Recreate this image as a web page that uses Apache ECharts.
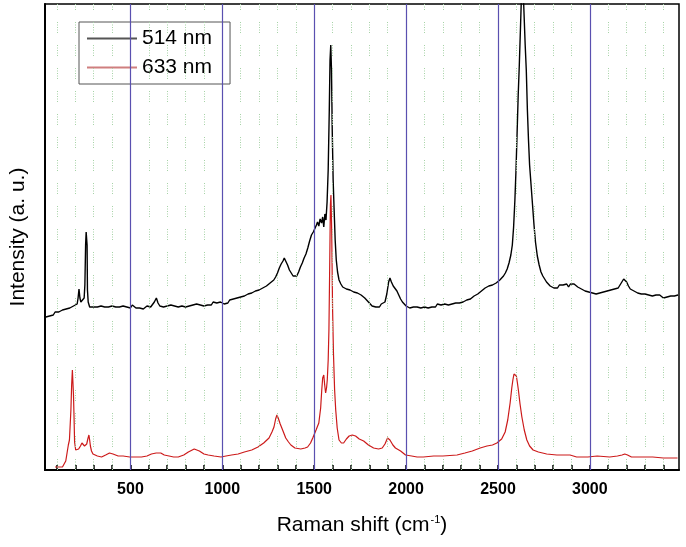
<!DOCTYPE html>
<html>
<head>
<meta charset="utf-8">
<script src="https://cdn.jsdelivr.net/npm/echarts@6/dist/echarts.min.js"></script>
<style>
html,body{margin:0;padding:0;background:#fff;}
#chart{width:686px;height:547px;}
</style>
</head>
<body>
<div id="chart"></div>
<script>
// Raman shift (cm-1) ticks and labels
var tickValues = [100,200,300,400,500,600,700,800,900,1000,1100,1200,1300,1400,1500,1600,1700,1800,1900,2000,2100,2200,2300,2400,2500,2600,2700,2800,2900,3000,3100,3200,3300,3400];
var labelValues = [500,1000,1500,2000,2500,3000];
var majorLines = [500,1000,1500,2000,2500,3000];
var minorLines = [100,200,300,400,600,700,800,900,1100,1200,1300,1400,1600,1700,1800,1900,2100,2200,2300,2400,2600,2700,2800,2900,3100,3200,3300,3400];

// 514 nm spectrum [shift, intensity a.u.]
var s514 = [[40,153],[50,155],[60,154],[70,156],[80,155],[90,158],[100,156],[110,158],[120,157],[130,160],[140,158],[150,161],[160,159],[170,162],[180,161],[190,164],[200,163],[210,166],[215,172],[220,181],[225,172],[230,168],[240,170],[248,172],[252,185],[256,225],[259,238],[262,236],[264,225],[266,180],[270,168],[278,163],[288,162],[300,163],[310,161],[320,163],[330,162],[340,164],[350,162],[360,163],[370,161],[380,163],[390,162],[400,164],[410,162],[420,163],[430,161],[440,163],[450,162],[460,164],[470,162],[480,163],[490,164],[500,162],[510,165],[520,163],[530,162],[540,164],[550,162],[560,163],[570,161],[580,163],[590,164],[600,162],[610,163],[620,165],[630,168],[641,172],[650,167],[660,164],[670,165],[680,163],[690,165],[700,164],[710,162],[720,165],[730,163],[740,164],[750,166],[760,163],[770,165],[780,164],[790,166],[800,163],[810,165],[820,164],[830,166],[840,165],[850,163],[860,166],[870,164],[880,165],[890,167],[900,164],[910,166],[920,165],[930,167],[940,165],[950,168],[960,166],[970,167],[980,165],[990,168],[1000,169],[1010,166],[1020,168],[1030,167],[1040,170],[1050,168],[1060,171],[1070,169],[1080,172],[1090,170],[1100,173],[1110,171],[1120,174],[1130,173],[1140,176],[1150,174],[1160,177],[1170,176],[1180,179],[1190,177],[1200,180],[1210,179],[1220,182],[1230,181],[1240,184],[1250,183],[1260,187],[1270,186],[1280,190],[1290,193],[1300,197],[1310,202],[1320,206],[1330,209],[1337,212],[1345,210],[1355,205],[1365,200],[1375,197],[1385,194],[1395,192],[1405,194],[1415,198],[1425,203],[1435,207],[1445,212],[1455,216],[1465,222],[1475,229],[1485,235],[1495,238],[1505,242],[1512,245],[1518,248],[1525,244],[1532,251],[1540,247],[1546,253],[1552,243],[1558,256],[1564,250],[1570,268],[1576,300],[1582,360],[1586,410],[1590,425],[1594,400],[1598,340],[1603,290],[1608,262],[1614,230],[1620,210],[1627,198],[1635,190],[1645,186],[1655,183],[1665,185],[1675,181],[1685,183],[1695,180],[1705,182],[1715,178],[1725,180],[1735,177],[1745,178],[1755,175],[1765,177],[1775,172],[1785,170],[1795,168],[1805,166],[1815,164],[1825,165],[1835,163],[1845,164],[1855,163],[1865,166],[1875,165],[1885,168],[1895,176],[1905,188],[1912,192],[1920,188],[1930,184],[1940,182],[1950,179],[1960,175],[1970,171],[1980,168],[1990,166],[2000,164],[2010,165],[2020,162],[2030,164],[2040,163],[2050,161],[2060,163],[2070,164],[2080,162],[2090,164],[2100,163],[2110,165],[2120,162],[2130,164],[2140,163],[2150,165],[2160,163],[2170,166],[2180,164],[2190,165],[2200,163],[2210,166],[2220,164],[2230,165],[2240,163],[2250,166],[2260,165],[2270,167],[2280,165],[2290,167],[2300,166],[2310,168],[2320,167],[2330,170],[2340,169],[2350,171],[2360,172],[2370,174],[2380,173],[2390,176],[2400,177],[2410,179],[2420,180],[2430,182],[2440,181],[2450,184],[2460,183],[2470,185],[2480,184],[2490,187],[2500,188],[2510,190],[2520,192],[2530,194],[2540,197],[2550,201],[2560,207],[2570,215],[2578,225],[2585,243],[2592,270],[2598,300],[2604,337],[2610,375],[2616,405],[2622,440],[2627,470],[2632,490],[2637,480],[2642,455],[2648,425],[2654,400],[2660,360],[2666,330],[2672,305],[2680,285],[2688,265],[2696,245],[2704,228],[2714,214],[2724,205],[2734,198],[2744,194],[2754,191],[2764,188],[2774,187],[2784,184],[2794,185],[2804,182],[2814,184],[2824,182],[2834,185],[2844,183],[2854,185],[2864,184],[2874,186],[2884,183],[2894,186],[2904,184],[2914,186],[2924,185],[2934,183],[2944,184],[2954,181],[2964,182],[2974,179],[2984,180],[2994,178],[3004,179],[3014,177],[3024,178],[3034,176],[3044,178],[3054,177],[3064,179],[3074,178],[3084,180],[3094,179],[3104,181],[3114,180],[3124,182],[3134,181],[3144,183],[3154,182],[3164,185],[3174,188],[3184,191],[3192,193],[3200,188],[3210,184],[3220,181],[3230,182],[3240,179],[3250,180],[3260,177],[3270,179],[3280,176],[3290,178],[3300,176],[3310,177],[3320,175],[3330,177],[3340,174],[3350,176],[3360,175],[3370,173],[3380,175],[3390,174],[3400,172],[3410,174],[3420,173],[3430,171],[3440,174],[3450,172],[3460,174],[3470,173],[3480,175]];

// 633 nm spectrum [shift, intensity a.u.]
var s633 = [[90,3],[110,3],[130,3],[140,5],[148,9],[155,17],[162,25],[168,30],[172,45],[176,60],[180,85],[184,100],[187,98],[190,75],[193,53],[196,28],[202,20],[210,20],[218,21],[228,24],[236,27],[243,28],[250,24],[256,22],[262,26],[268,31],[274,35],[278,30],[282,24],[288,19],[296,16],[306,14],[320,14],[343,13],[365,15],[386,17],[405,16],[433,14],[460,14],[496,13],[530,13],[560,13],[590,14],[614,16],[640,17],[665,17],[684,15],[710,14],[735,13],[760,13],[790,15],[815,18],[847,21],[875,19],[900,16],[923,15],[955,14],[993,13],[1020,14],[1050,15],[1086,16],[1120,18],[1160,20],[1194,23],[1225,27],[1254,32],[1270,38],[1281,43],[1290,51],[1297,55],[1304,52],[1315,46],[1328,40],[1345,32],[1360,28],[1373,25],[1395,22],[1427,21],[1450,22],[1464,23],[1480,27],[1492,32],[1510,40],[1525,47],[1535,62],[1541,80],[1546,92],[1552,95],[1557,85],[1562,77],[1567,82],[1571,90],[1576,110],[1580,140],[1584,200],[1588,265],[1591,275],[1595,240],[1600,160],[1605,115],[1611,80],[1617,60],[1625,42],[1635,30],[1648,27],[1660,27],[1675,31],[1690,34],[1707,35],[1725,34],[1745,31],[1769,29],[1795,25],[1823,22],[1850,21],[1870,22],[1885,26],[1899,32],[1912,30],[1928,25],[1942,22],[1970,19],[1997,15],[2030,14],[2060,13],[2094,13],[2150,14],[2200,14],[2277,15],[2320,17],[2360,19],[2403,22],[2440,24],[2470,25],[2494,27],[2520,31],[2539,38],[2553,50],[2566,67],[2575,82],[2581,90],[2587,96],[2593,98],[2600,94],[2605,88],[2611,80],[2620,66],[2630,53],[2643,40],[2657,30],[2672,24],[2691,20],[2720,18],[2765,16],[2820,15],[2892,15],[2928,13],[2989,13],[3040,14],[3108,13],[3150,14],[3175,15],[3190,16],[3205,15],[3226,13],[3280,13],[3342,13],[3400,12],[3440,12],[3477,12]];

var dotColor = '#a6d2a6';
var gridData = [];
minorLines.forEach(function(v){
  gridData.push({xAxis: v, lineStyle: {color: dotColor, opacity: 1, width: 1, type: [1,1.5,1,1.5,1,1.5,1,1.5,1,12]}});
});
majorLines.forEach(function(v){
  gridData.push({xAxis: v, lineStyle: {color: '#5a50b0', opacity: 1, width: 1.2, type: 'solid'}});
});

var chart = echarts.init(document.getElementById('chart'), null, {renderer: 'canvas'});
var font = 'Liberation Sans, Arial, sans-serif';
chart.setOption({
  animation: false,
  backgroundColor: '#fff',
  grid: {left: 42, right: 7, top: 4, bottom: 77, show: true, borderColor: '#000', borderWidth: 1.5, backgroundColor: '#fff'},
  legend: {
    data: [{name: '514 nm', itemStyle: {color: '#555'}}, {name: '633 nm', itemStyle: {color: '#cf7f7f'}}],
    orient: 'vertical', left: 79, top: 22,
    icon: 'rect', itemWidth: 50, itemHeight: 2, itemGap: 8,
    padding: [6, 18, 6, 8],
    borderColor: '#555', borderWidth: 1, backgroundColor: '#fff',
    textStyle: {fontFamily: font, fontSize: 21, color: '#000'}
  },
  xAxis: {
    type: 'value', min: 35, max: 3485,
    name: '{a|Raman shift (cm}{s|-1}{a|)}',
    nameLocation: 'middle', nameGap: 44,
    nameTextStyle: {rich: {a: {fontFamily: font, fontSize: 21, color: '#000'}, s: {fontFamily: font, fontSize: 11, color: '#000', padding: [0,0,11,1]}}},
    axisLine: {show: true, onZero: false, lineStyle: {color: '#000', width: 2}},
    axisTick: {show: true, inside: true, length: 5, customValues: tickValues, lineStyle: {color: '#000', width: 1.5}},
    axisLabel: {show: true, customValues: labelValues, margin: 12, fontFamily: font, fontSize: 16, fontWeight: 'bold', color: '#000',
      formatter: function (v) { return String(v); }},
    splitLine: {show: false},
    minorTick: {show: false}
  },
  yAxis: {
    type: 'value', min: 0, max: 466,
    name: 'Intensity (a. u.)', nameLocation: 'middle', nameGap: 16,
    nameTextStyle: {fontFamily: font, fontSize: 21, color: '#000'},
    axisLine: {show: true, lineStyle: {color: '#000', width: 2}},
    axisTick: {show: false}, axisLabel: {show: false}, splitLine: {show: false}
  },
  series: [
    {
      name: 'grid', type: 'line', data: [], z: 1, silent: true,
      itemStyle: {color: dotColor}, lineStyle: {color: dotColor},
      markLine: {silent: true, symbol: 'none', label: {show: false}, animation: false,
        lineStyle: {color: dotColor, opacity: 1}, emphasis: {disabled: true}, data: gridData}
    },
    {
      name: '514 nm', type: 'line', data: s514, symbol: 'none', showSymbol: false, z: 3,
      lineStyle: {color: '#000', width: 1.4}, itemStyle: {color: '#000'}, clip: true
    },
    {
      name: '633 nm', type: 'line', data: s633, symbol: 'none', showSymbol: false, z: 4,
      lineStyle: {color: '#cc1a1a', width: 1.2}, itemStyle: {color: '#cc1a1a'}, clip: true
    }
  ]
});
</script>
</body>
</html>
